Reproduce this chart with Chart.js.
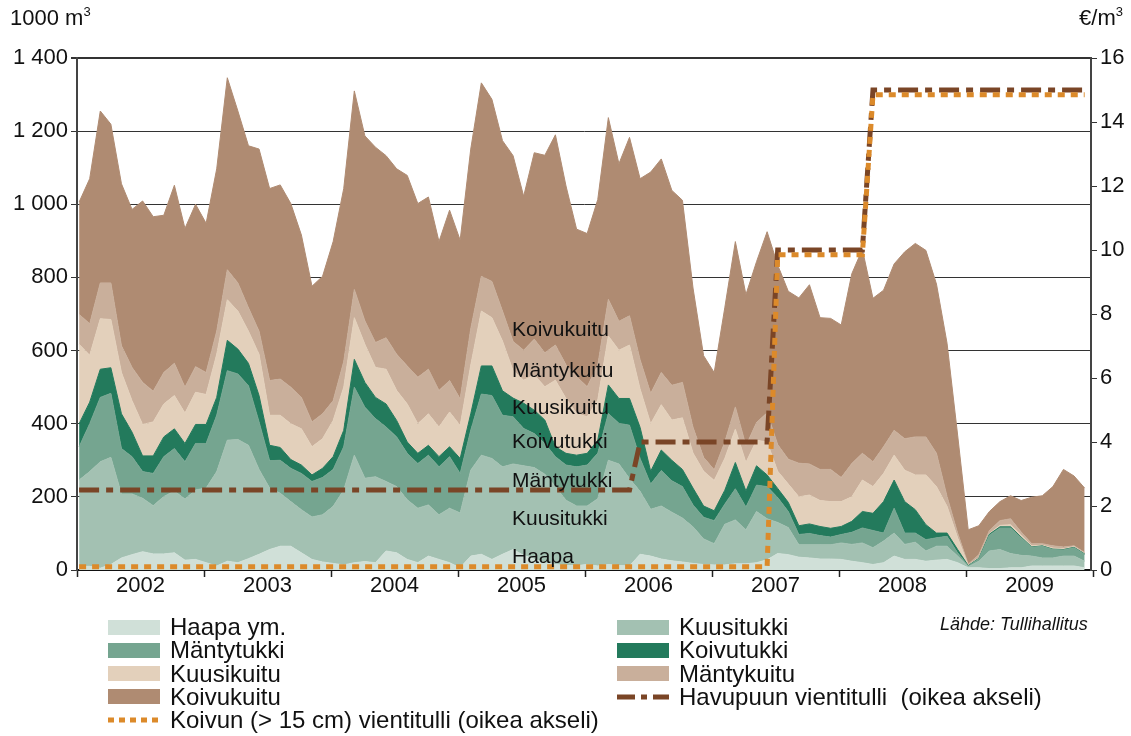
<!DOCTYPE html>
<html>
<head>
<meta charset="utf-8">
<script src="https://cdn.jsdelivr.net/npm/chart.js@4.4.1/dist/chart.umd.min.js"></script>
<style>
  body { margin: 0; background: #fff; font-family: 'Liberation Sans', Arial, sans-serif; color: #111; }
  #wrap { position: relative; width: 1131px; height: 736px; overflow: hidden; }
  #chart { position: absolute; left: 0; top: 0; }
  .t { position: absolute; white-space: nowrap; line-height: 26px; }
  .unit { font-size: 22px; top: 5px; }
  .unit sup { font-size: 13px; vertical-align: 9px; line-height: 0; }
  .inl { font-size: 21px; left: 512px; }
  .leg { font-size: 24px; }
  .sw { position: absolute; width: 52px; height: 15px; }
  .src { font-size: 18px; font-style: italic; left: 940px; top: 611px; }
</style>
</head>
<body>
<div id="wrap">
  <canvas id="chart" width="1131" height="736"></canvas>
  <div class="t unit" style="left:10px">1000 m<sup>3</sup></div>
  <div class="t unit" style="right:8px">€/m<sup>3</sup></div>

  <div class="t inl" style="top:316px">Koivukuitu</div>
  <div class="t inl" style="top:357px">Mäntykuitu</div>
  <div class="t inl" style="top:394px">Kuusikuitu</div>
  <div class="t inl" style="top:428px">Koivutukki</div>
  <div class="t inl" style="top:467px">Mäntytukki</div>
  <div class="t inl" style="top:505px">Kuusitukki</div>
  <div class="t inl" style="top:543px">Haapa</div>

  <div id="legend"></div>
  <div class="t src">Lähde: Tullihallitus</div>
</div>
<script>
const years = ['2002', '2003', '2004', '2005', '2006', '2007', '2008', '2009'];

// 1000 m3 per month, Jan 2002 - Dec 2009
const haapa = [
  10, 10, 5, 15, 33, 42, 50, 44, 44, 47, 27, 29,
  20, 11, 24, 20, 31, 43, 56, 65, 65, 47, 29, 22,
  18, 14, 20, 23, 20, 52, 47, 29, 20, 38, 29, 20,
  6, 38, 43, 29, 43, 56, 40, 30, 20, 15, 12, 12,
  15, 11, 15, 12, 11, 43, 38, 30, 25, 22, 18, 15,
  14, 14, 17, 17, 20, 28, 45, 42, 35, 33, 30, 30,
  29, 24, 20, 15, 20, 38, 29, 29, 24, 27, 29, 20,
  6, 6, 4, 4, 6, 6, 11, 11, 11, 11, 11, 6
];
const kuusitukki = [
  236, 259, 291, 293, 175, 166, 146, 132, 157, 169, 167, 190,
  204, 258, 331, 337, 310, 232, 168, 145, 122, 118, 116, 129,
  156, 205, 294, 228, 235, 190, 181, 163, 149, 140, 122, 149,
  150, 235, 271, 276, 239, 234, 245, 250, 242, 213, 179, 163,
  160, 184, 285, 278, 239, 172, 128, 145, 133, 120, 100, 70,
  58, 111, 120, 93, 140, 112, 85, 74, 34, 36, 39, 39,
  45, 46, 54, 46, 59, 63, 41, 47, 28, 38, 36, 18,
  3, 18, 48, 52, 39, 34, 27, 22, 22, 27, 27, 18
];
const mantytukki = [
  91, 131, 176, 175, 124, 102, 73, 88, 109, 116, 102, 127,
  122, 154, 190, 179, 163, 130, 75, 90, 91, 99, 97, 102,
  101, 118, 186, 194, 159, 149, 136, 127, 122, 136, 131, 141,
  108, 109, 167, 172, 141, 129, 102, 93, 84, 82, 96, 107,
  112, 124, 128, 111, 146, 90, 69, 97, 86, 86, 60, 59,
  63, 55, 85, 62, 72, 88, 68, 44, 28, 31, 25, 21,
  23, 33, 41, 47, 22, 68, 31, 25, 31, 23, 27, 9,
  2, 7, 43, 59, 70, 48, 24, 32, 23, 17, 23, 19
];
const koivutukki = [
  63, 59, 77, 70, 95, 67, 43, 48, 54, 54, 50, 52,
  52, 49, 83, 68, 61, 72, 42, 35, 24, 23, 18, 25,
  35, 45, 76, 68, 58, 63, 45, 31, 28, 27, 28, 27,
  41, 45, 77, 81, 67, 51, 69, 64, 64, 27, 32, 32,
  32, 36, 78, 68, 73, 85, 35, 56, 56, 47, 46, 31,
  27, 38, 72, 44, 53, 32, 25, 25, 24, 26, 25, 24,
  22, 30, 45, 47, 86, 77, 86, 64, 41, 13, 9, 9,
  1, 1, 3, 3, 3, 2, 1, 1, 1, 1, 1, 1
];
const kuusikuitu = [
  217, 128, 138, 132, 113, 86, 86, 93, 90, 91, 83, 88,
  82, 118, 111, 104, 88, 113, 82, 88, 98, 99, 77, 81,
  99, 118, 114, 104, 82, 95, 82, 104, 81, 86, 81, 95,
  90, 133, 150, 132, 136, 75, 63, 96, 91, 182, 150, 114,
  100, 110, 134, 132, 146, 105, 130, 124, 110, 141, 96, 95,
  83, 87, 91, 78, 70, 90, 47, 50, 79, 79, 71, 73,
  68, 67, 86, 73, 77, 68, 86, 95, 136, 127, 73, 32,
  1, 2, 2, 4, 6, 6, 3, 2, 3, 2, 2, 1
];
const mantykuitu = [
  82, 86, 98, 100, 73, 91, 115, 84, 86, 88, 71, 70,
  60, 63, 82, 77, 64, 63, 95, 99, 100, 86, 68, 68,
  54, 70, 77, 64, 68, 86, 99, 104, 127, 122, 100, 86,
  73, 100, 95, 99, 82, 80, 82, 98, 93, 96, 92, 101,
  82, 95, 100, 79, 80, 80, 83, 88, 95, 97, 70, 38,
  29, 45, 61, 46, 48, 80, 73, 68, 92, 85, 85, 88,
  66, 91, 73, 68, 73, 68, 86, 104, 104, 91, 27, 13,
  3, 8, 8, 13, 16, 8, 6, 4, 6, 5, 2, 3
];
const koivukuitu = [
  307, 397, 470, 434, 443, 432, 496, 477, 430, 487, 434, 444,
  408, 444, 525, 470, 443, 498, 525, 531, 502, 444, 371, 376,
  435, 473, 543, 506, 534, 498, 507, 521, 475, 471, 407, 466,
  434, 491, 529, 498, 466, 508, 421, 510, 540, 575, 489, 403,
  419, 453, 497, 431, 488, 495, 605, 584, 533, 498, 381, 278,
  266, 367, 452, 413, 440, 495, 491, 459, 452, 490, 415, 413,
  417, 519, 558, 447, 428, 455, 511, 529, 510, 463, 419, 268,
  94, 79, 52, 52, 63, 86, 127, 131, 162, 212, 191, 176
];

// export duty, euro per m3 (right axis)
const havupuuTulli = [
  2.5, 2.5, 2.5, 2.5, 2.5, 2.5, 2.5, 2.5, 2.5, 2.5, 2.5, 2.5,
  2.5, 2.5, 2.5, 2.5, 2.5, 2.5, 2.5, 2.5, 2.5, 2.5, 2.5, 2.5,
  2.5, 2.5, 2.5, 2.5, 2.5, 2.5, 2.5, 2.5, 2.5, 2.5, 2.5, 2.5,
  2.5, 2.5, 2.5, 2.5, 2.5, 2.5, 2.5, 2.5, 2.5, 2.5, 2.5, 2.5,
  2.5, 2.5, 2.5, 2.5, 2.5, 4, 4, 4, 4, 4, 4, 4,
  4, 4, 4, 4, 4, 4, 10, 10, 10, 10, 10, 10,
  10, 10, 10, 15, 15, 15, 15, 15, 15, 15, 15, 15,
  15, 15, 15, 15, 15, 15, 15, 15, 15, 15, 15, 15
];
const koivuTulli = [
  0.1, 0.1, 0.1, 0.1, 0.1, 0.1, 0.1, 0.1, 0.1, 0.1, 0.1, 0.1,
  0.1, 0.1, 0.1, 0.1, 0.1, 0.1, 0.1, 0.1, 0.1, 0.1, 0.1, 0.1,
  0.1, 0.1, 0.1, 0.1, 0.1, 0.1, 0.1, 0.1, 0.1, 0.1, 0.1, 0.1,
  0.1, 0.1, 0.1, 0.1, 0.1, 0.1, 0.1, 0.1, 0.1, 0.1, 0.1, 0.1,
  0.1, 0.1, 0.1, 0.1, 0.1, 0.1, 0.1, 0.1, 0.1, 0.1, 0.1, 0.1,
  0.1, 0.1, 0.1, 0.1, 0.1, 0.1, 9.85, 9.85, 9.85, 9.85, 9.85, 9.85,
  9.85, 9.85, 9.85, 14.85, 14.85, 14.85, 14.85, 14.85, 14.85, 14.85, 14.85, 14.85,
  14.85, 14.85, 14.85, 14.85, 14.85, 14.85, 14.85, 14.85, 14.85, 14.85, 14.85, 14.85
];

const areas = [
  { label: 'Haapa ym.', data: haapa, color: '#d0e0d8' },
  { label: 'Kuusitukki', data: kuusitukki, color: '#a3c1b2' },
  { label: 'Mäntytukki', data: mantytukki, color: '#75a590' },
  { label: 'Koivutukki', data: koivutukki, color: '#237a5c' },
  { label: 'Kuusikuitu', data: kuusikuitu, color: '#e3d0bb' },
  { label: 'Mäntykuitu', data: mantykuitu, color: '#c9af9b' },
  { label: 'Koivukuitu', data: koivukuitu, color: '#af8b72' }
];
const brownLine = '#7a4526';
const orangeLine = '#dc8a2a';
const tickFont = { family: "'Liberation Sans', Arial, sans-serif", size: 22 };

const toXY = arr => arr.map((v, i) => ({ x: i, y: v }));
const fmt = v => v >= 1000 ? '1 ' + String(v - 1000).padStart(3, '0') : String(v);

// legend, in the reference's two columns
const legendItems = [
  { text: 'Haapa ym.', fill: areas[0].color, col: 0, row: 0 },
  { text: 'Kuusitukki', fill: areas[1].color, col: 1, row: 0 },
  { text: 'Mäntytukki', fill: areas[2].color, col: 0, row: 1 },
  { text: 'Koivutukki', fill: areas[3].color, col: 1, row: 1 },
  { text: 'Kuusikuitu', fill: areas[4].color, col: 0, row: 2 },
  { text: 'Mäntykuitu', fill: areas[5].color, col: 1, row: 2 },
  { text: 'Koivukuitu', fill: areas[6].color, col: 0, row: 3 },
  { text: 'Havupuun vientitulli\u00a0 (oikea akseli)', line: brownLine, dash: '18 6 6 6', col: 1, row: 3 },
  { text: 'Koivun (> 15 cm) vientitulli (oikea akseli)', line: orangeLine, dash: '6 5', col: 0, row: 4 }
];
const legend = document.getElementById('legend');
legendItems.forEach(it => {
  const cy = 627 + it.row * 23.3;
  const sx = it.col ? 617 : 108;
  if (it.fill) {
    const d = document.createElement('div');
    d.className = 'sw';
    d.style.left = sx + 'px';
    d.style.top = (cy - 7.5) + 'px';
    d.style.background = it.fill;
    legend.appendChild(d);
  } else {
    const ns = 'http://www.w3.org/2000/svg';
    const svg = document.createElementNS(ns, 'svg');
    svg.setAttribute('width', 52);
    svg.setAttribute('height', 10);
    svg.style.position = 'absolute';
    svg.style.left = sx + 'px';
    svg.style.top = (cy - 5) + 'px';
    const ln = document.createElementNS(ns, 'line');
    ln.setAttribute('x1', 0); ln.setAttribute('x2', 52);
    ln.setAttribute('y1', 5); ln.setAttribute('y2', 5);
    ln.setAttribute('stroke', it.line);
    ln.setAttribute('stroke-width', 5);
    ln.setAttribute('stroke-dasharray', it.dash);
    svg.appendChild(ln);
    legend.appendChild(svg);
  }
  const t = document.createElement('div');
  t.className = 't leg';
  t.style.left = (sx + 62) + 'px';
  t.style.top = (cy - 13) + 'px';
  t.textContent = it.text;
  legend.appendChild(t);
});

const datasets = areas.map((a, k) => ({
  label: a.label,
  data: toXY(a.data),
  backgroundColor: a.color,
  borderColor: a.color,
  borderWidth: 1,
  pointRadius: 0,
  tension: 0,
  fill: k === 0 ? 'origin' : '-1',
  yAxisID: 'y',
  order: 2
}));
datasets.push({
  label: 'Havupuun vientitulli',
  data: toXY(havupuuTulli),
  borderColor: brownLine,
  borderWidth: 5,
  borderDash: [20, 7, 7, 7],
  borderCapStyle: 'butt',
  pointRadius: 0,
  fill: false,
  yAxisID: 'y2',
  order: 1
});
datasets.push({
  label: 'Koivun vientitulli',
  data: toXY(koivuTulli),
  borderColor: orangeLine,
  borderWidth: 5,
  borderDash: [7, 6],
  borderCapStyle: 'butt',
  pointRadius: 0,
  fill: false,
  yAxisID: 'y2',
  order: 0
});

new Chart(document.getElementById('chart'), {
  type: 'line',
  data: { datasets },
  options: {
    responsive: false,
    animation: false,
    events: [],
    layout: { padding: { top: 58, bottom: 136, left: 0, right: 0 } },
    plugins: { legend: { display: false }, tooltip: { enabled: false } },
    scales: {
      x: {
        type: 'linear',
        min: -0.2,
        max: 95.6,
        afterBuildTicks: scale => {
          const t = [];
          for (let k = 0; k <= 8; k++) {
            t.push({ value: k * 12 - 0.2 });
            if (k < 8) t.push({ value: k * 12 + 5.8 });
          }
          scale.ticks = t;
        },
        afterFit: scale => { scale.height = 30; },
        grid: {
          drawOnChartArea: false,
          tickLength: 7,
          tickWidth: 1.5,
          tickColor: c => (c.index % 2 === 0 ? '#222' : 'rgba(0,0,0,0)')
        },
        border: { color: '#111', width: 2 },
        ticks: {
          autoSkip: false,
          maxRotation: 0,
          padding: -4,
          color: '#111',
          font: tickFont,
          callback: (v, i) => (i % 2 ? years[(i - 1) / 2] : '')
        }
      },
      y: {
        stacked: true,
        min: 0,
        max: 1400,
        afterFit: scale => { scale.width = 77; },
        grid: {
          color: '#333',
          lineWidth: c => (c.tick && c.tick.value === 1400 ? 2 : 1),
          tickLength: 6
        },
        border: { color: '#444', width: 2 },
        ticks: { stepSize: 200, padding: 3, color: '#111', font: tickFont, callback: v => fmt(v) }
      },
      y2: {
        position: 'right',
        min: 0,
        max: 16,
        afterFit: scale => { scale.width = 40; },
        grid: { drawOnChartArea: false, tickLength: 6, color: '#333' },
        border: { color: '#444', width: 2 },
        ticks: { stepSize: 2, padding: 3, color: '#111', font: tickFont }
      }
    }
  }
});
</script>
</body>
</html>
